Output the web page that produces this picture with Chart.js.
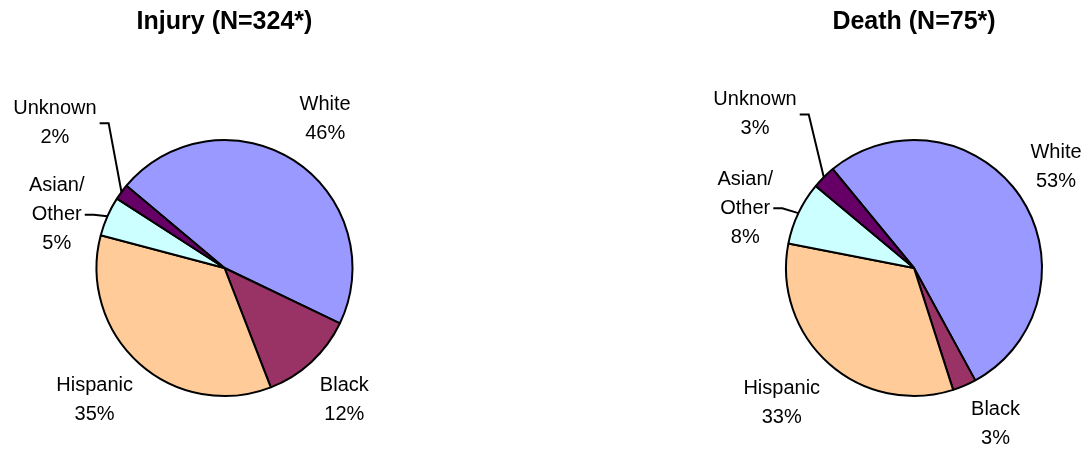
<!DOCTYPE html>
<html>
<head>
<meta charset="utf-8">
<script src="https://cdn.jsdelivr.net/npm/chart.js@4.4.0/dist/chart.umd.min.js"></script>
<style>
  body { margin: 0; background: #fff; }
  .wrap { position: absolute; top: 0; width: 543px; height: 450px; }
</style>
</head>
<body>
<div class="wrap" style="left:0"><canvas id="injury" width="543" height="450"></canvas></div>
<div class="wrap" style="left:543px"><canvas id="death" width="543" height="450"></canvas></div>
<script>
'use strict';

// data
const categories = ['White', 'Black', 'Hispanic', 'Asian/\nOther', 'Unknown'];
const injuryPct = [46, 12, 35, 5, 2];
const deathPct = [53, 3, 33, 8, 3];
const injuryTitle = 'Injury (N=324*)';
const deathTitle = 'Death (N=75*)';

const sliceColors = ['#9999FF', '#993366', '#FFCC99', '#CCFFFF', '#660066'];
const hasLeader = [false, false, false, true, true];

// label placement: extra angle (deg) and distance beyond the rim
const injuryShift = [1.2, 0.5, 2.8, -6.2, 4.1];
const injuryGap = [52, 50, 57, 48, 95];
const deathShift = [-1.3, -4.4, 2.8, -5.9, -1.2];
const deathGap = [46, 48, 61, 51, 93];

const fontFamily = '"Liberation Sans", Arial, Helvetica, sans-serif';
const lineH = 29;

const sliceLabels = {
  id: 'sliceLabels',
  afterDatasetsDraw(chart, args, opts) {
    const ctx = chart.ctx;
    const meta = chart.getDatasetMeta(0);
    const values = chart.data.datasets[0].data;
    ctx.save();
    ctx.font = '20px ' + fontFamily;
    ctx.fillStyle = '#000';
    ctx.textAlign = 'center';
    ctx.textBaseline = 'middle';
    meta.data.forEach((arc, i) => {
      const p = arc.getProps(['x', 'y', 'startAngle', 'endAngle', 'outerRadius'], true);
      const mid = (p.startAngle + p.endAngle) / 2;
      const a = mid + opts.shift[i] * Math.PI / 180;
      const d = p.outerRadius + opts.gap[i];
      const cx = p.x + Math.cos(a) * d;
      const cy = p.y + Math.sin(a) * d;
      const lines = chart.data.labels[i].split('\n').concat(values[i] + '%');
      const top = cy - (lines.length - 1) * lineH / 2;
      lines.forEach((t, k) => ctx.fillText(t, cx, top + k * lineH));
      if (hasLeader[i]) {
        let w;
        if (lines.length % 2) w = ctx.measureText(lines[(lines.length - 1) / 2]).width;
        else w = Math.max(...lines.map(t => ctx.measureText(t).width));
        const x0 = cx + w / 2 + 3;
        const ex = p.x + Math.cos(mid) * p.outerRadius;
        const ey = p.y + Math.sin(mid) * p.outerRadius;
        ctx.beginPath();
        ctx.moveTo(x0, cy);
        ctx.lineTo(x0 + 9, cy);
        ctx.lineTo(ex, ey);
        ctx.strokeStyle = '#000';
        ctx.lineWidth = 2;
        ctx.stroke();
      }
    });
    ctx.restore();
  }
};

function makePie(id, title, values, rotation, pad, shift, gap) {
  const config = {
    type: 'pie',
    data: {
      labels: categories,
      datasets: [{
        data: values,
        backgroundColor: sliceColors,
        borderColor: '#000',
        borderWidth: 2
      }]
    },
    options: {
      responsive: false,
      animation: false,
      rotation: rotation,
      radius: 128,
      layout: { padding: pad },
      plugins: {
        legend: { display: false },
        tooltip: { enabled: false },
        title: {
          display: true,
          text: title,
          color: '#000',
          font: { family: fontFamily, size: 25, weight: 'bold' },
          padding: { top: 7, bottom: 103 }
        },
        sliceLabels: { shift: shift, gap: gap }
      }
    },
    plugins: [sliceLabels]
  };
  return new Chart(document.getElementById(id), config);
}

makePie('injury', injuryTitle, injuryPct, -50,
  { left: 96.5, right: 190.5, top: 0, bottom: 54 }, injuryShift, injuryGap);
makePie('death', deathTitle, deathPct, -39.4,
  { left: 243, right: 44, top: 0, bottom: 54 }, deathShift, deathGap);
</script>
</body>
</html>
